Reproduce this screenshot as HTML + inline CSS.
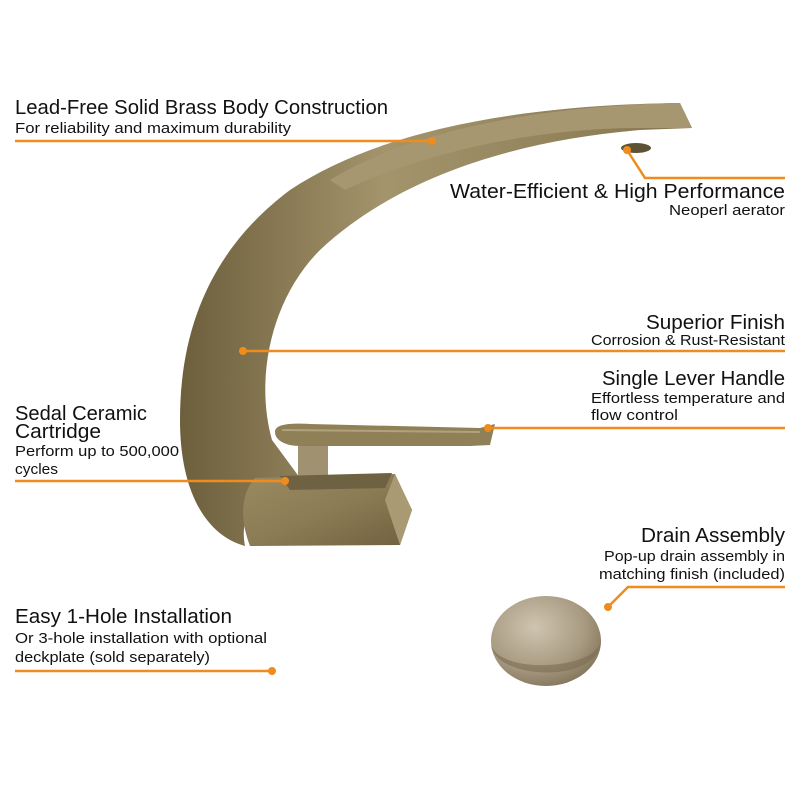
<!DOCTYPE html>
<html><head><meta charset="utf-8"><style>
html,body{margin:0;padding:0;background:#fff}
svg{display:block}
text{font-family:"Liberation Sans Narrow","Liberation Sans",sans-serif;fill:#111}
.t{font-size:20px}
.s{font-size:15px}
</style></head><body>
<svg width="800" height="800" viewBox="0 0 800 800" xmlns="http://www.w3.org/2000/svg">
<defs>
<linearGradient id="g" x1="0" y1="0" x2="1" y2="1">
<stop offset="0" stop-color="#9a8a62"/><stop offset="0.5" stop-color="#8c7c55"/><stop offset="1" stop-color="#6f613f"/>
</linearGradient>
<linearGradient id="g2" x1="0" y1="0" x2="1" y2="0">
<stop offset="0" stop-color="#6d5f3c"/><stop offset="0.4" stop-color="#a3946c"/><stop offset="1" stop-color="#85764f"/>
</linearGradient>
<radialGradient id="d" cx="0.4" cy="0.35" r="0.75">
<stop offset="0" stop-color="#cfc4b0"/><stop offset="0.6" stop-color="#a89b82"/><stop offset="1" stop-color="#7a6d52"/>
</radialGradient>
</defs>
<!-- spout -->
<path d="M680,103 L692,128 L640,130 C520,140 400,175 320,250 C270,300 255,380 272,440 L300,478 L282,490 C250,500 240,520 245,546 C205,535 180,490 180,420 C180,330 210,250 290,190 C380,130 520,105 680,103 Z" fill="url(#g2)"/>
<path d="M680,103 C560,105 420,125 330,180 L345,190 C430,150 540,128 640,128 L692,128 Z" fill="#a69770"/>
<!-- aerator -->
<ellipse cx="636" cy="148" rx="15" ry="5" fill="#5e5236"/>
<!-- handle -->
<path d="M275,432 C275,424 290,423 310,424 L480,428 L495,424 L490,445 L470,446 L300,446 C285,446 275,440 275,432 Z" fill="#8f8058"/>
<path d="M282,430 L480,432" stroke="#b0a27a" stroke-width="2"/>
<rect x="298" y="446" width="30" height="40" fill="#a09170"/>
<!-- base -->
<path d="M255,478 L395,474 L412,510 L400,545 L250,546 C240,520 240,495 255,478 Z" fill="url(#g)"/>
<path d="M280,476 L392,473 L385,488 L290,490 Z" fill="#6e6243"/>
<path d="M395,474 L412,510 L400,545 L385,500 Z" fill="#a99a74"/>
<!-- drain -->
<ellipse cx="546" cy="641" rx="55" ry="45" fill="url(#d)"/>
<path d="M491,645 C495,680 600,685 601,640 C598,670 500,675 491,645 Z" fill="#7a6d52" opacity="0.6"/>

<!-- orange lines -->
<g stroke="#f08c1e" stroke-width="2.5" fill="none">
<path d="M15,141 H432"/>
<path d="M627,150 L645,178 H785"/>
<path d="M243,351 H785"/>
<path d="M488,428 H785"/>
<path d="M15,481 H285"/>
<path d="M785,587 H628 L608,607"/>
<path d="M15,671 H272"/>
</g>
<g fill="#f08c1e">
<circle cx="432" cy="141" r="4"/><circle cx="627" cy="150" r="4"/>
<circle cx="243" cy="351" r="4"/><circle cx="488" cy="428" r="4"/>
<circle cx="285" cy="481" r="4"/><circle cx="608" cy="607" r="4"/>
<circle cx="272" cy="671" r="4"/>
</g>

<!-- texts -->
<text class="t" x="15" y="114" textLength="373" lengthAdjust="spacingAndGlyphs">Lead-Free Solid Brass Body Construction</text>
<text class="s" x="15" y="133" textLength="276" lengthAdjust="spacingAndGlyphs">For reliability and maximum durability</text>

<text class="t" x="785" y="198" text-anchor="end" textLength="335" lengthAdjust="spacingAndGlyphs">Water-Efficient &amp; High Performance</text>
<text class="s" x="785" y="215" text-anchor="end" textLength="116" lengthAdjust="spacingAndGlyphs">Neoperl aerator</text>

<text class="t" x="785" y="329" text-anchor="end" textLength="139" lengthAdjust="spacingAndGlyphs">Superior Finish</text>
<text class="s" x="785" y="345" text-anchor="end" textLength="194" lengthAdjust="spacingAndGlyphs">Corrosion &amp; Rust-Resistant</text>

<text class="t" x="785" y="385" text-anchor="end" textLength="183" lengthAdjust="spacingAndGlyphs">Single Lever Handle</text>
<text class="s" x="785" y="403" text-anchor="end" textLength="194" lengthAdjust="spacingAndGlyphs">Effortless temperature and</text>
<text class="s" x="591" y="420" textLength="87" lengthAdjust="spacingAndGlyphs">flow control</text>

<text class="t" x="15" y="420" textLength="132" lengthAdjust="spacingAndGlyphs">Sedal Ceramic</text>
<text class="t" x="15" y="438" textLength="86" lengthAdjust="spacingAndGlyphs">Cartridge</text>
<text class="s" x="15" y="456" textLength="164" lengthAdjust="spacingAndGlyphs">Perform up to 500,000</text>
<text class="s" x="15" y="474" textLength="43" lengthAdjust="spacingAndGlyphs">cycles</text>

<text class="t" x="785" y="542" text-anchor="end" textLength="144" lengthAdjust="spacingAndGlyphs">Drain Assembly</text>
<text class="s" x="785" y="561" text-anchor="end" textLength="181" lengthAdjust="spacingAndGlyphs">Pop-up drain assembly in</text>
<text class="s" x="785" y="579" text-anchor="end" textLength="186" lengthAdjust="spacingAndGlyphs">matching finish (included)</text>

<text class="t" x="15" y="623" textLength="217" lengthAdjust="spacingAndGlyphs">Easy 1-Hole Installation</text>
<text class="s" x="15" y="643" textLength="252" lengthAdjust="spacingAndGlyphs">Or 3-hole installation with optional</text>
<text class="s" x="15" y="662" textLength="195" lengthAdjust="spacingAndGlyphs">deckplate (sold separately)</text>
</svg>
</body></html>
